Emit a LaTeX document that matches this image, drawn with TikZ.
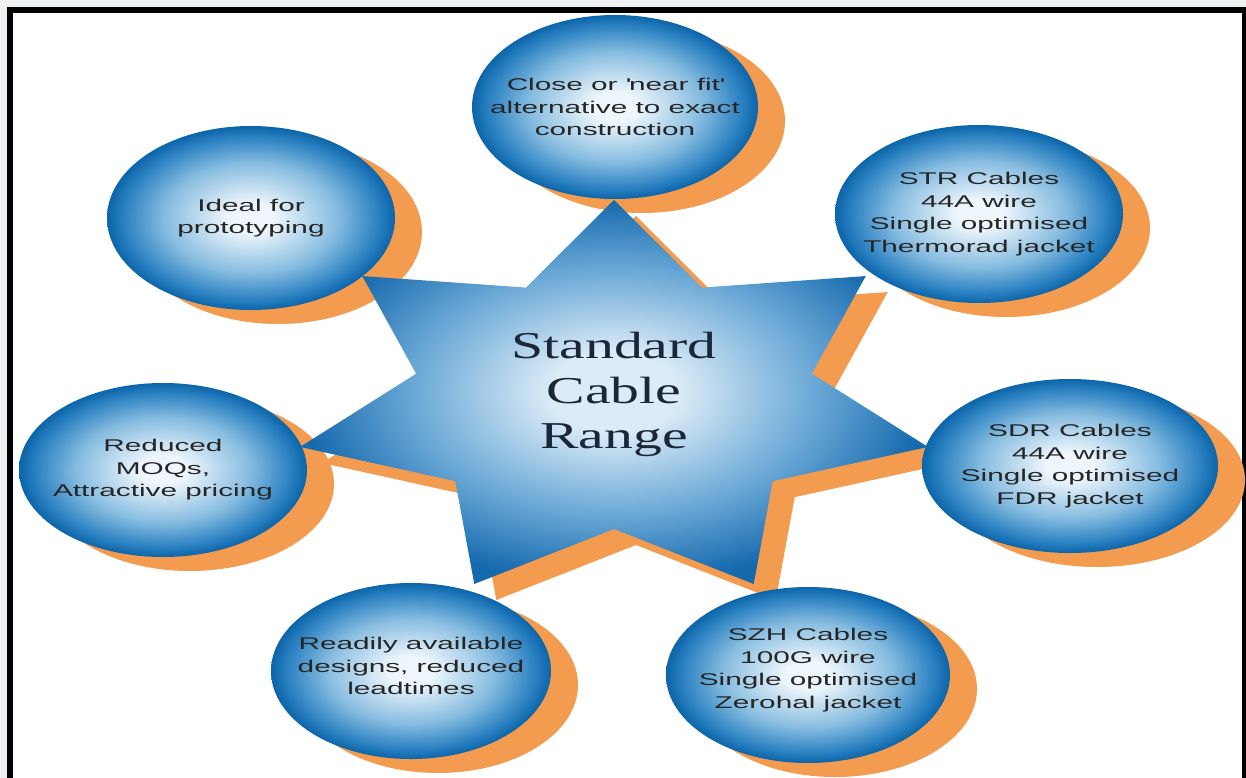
\documentclass[tikz,border=0pt]{standalone}
\usepackage{fontspec}
\usetikzlibrary{shapes.geometric}
\newfontfamily\circfont[FakeStretch=1.75]{Liberation Sans}
\newfontfamily\starfont[FakeStretch=1.52]{Liberation Serif}
\definecolor{bgGray}{HTML}{EEF0F2}
\definecolor{shadowOrange}{HTML}{F39C50}
\definecolor{ballLight}{HTML}{EEF6FC}
\definecolor{ballMid}{HTML}{86BCE0}
\definecolor{ballBlue}{HTML}{2C82C2}
\definecolor{ballDark}{HTML}{0C65AA}
\definecolor{starLight}{HTML}{DCECF7}
\definecolor{starMid}{HTML}{6AA8D6}
\definecolor{starDark}{HTML}{1569AD}
\definecolor{textGray}{HTML}{262626}
\definecolor{starText}{HTML}{1B2738}
\pgfdeclareradialshading{ballshade}{\pgfpoint{0bp}{0bp}}{color(0bp)=(ballLight); color(4bp)=(ballLight); color(15bp)=(ballMid); color(22bp)=(ballBlue); color(25bp)=(ballDark); color(50bp)=(ballDark)}
\pgfdeclareradialshading{starshade}{\pgfpoint{0bp}{0bp}}{color(0bp)=(starLight); color(5bp)=(starLight); color(16bp)=(starMid); color(25bp)=(starDark); color(50bp)=(starDark)}
\begin{document}
\begin{tikzpicture}[x=1pt,y=-1pt,
  ballnode/.style={ellipse, inner sep=0pt, outer sep=0pt, shade, shading=ballshade},
  balltext/.style={text=textGray, font=\circfont\fontsize{17}{22.5}\selectfont, align=center, inner sep=0pt},
  ballshadow/.style={fill=shadowOrange},
  startext/.style={text=starText, font=\starfont\fontsize{38}{45}\selectfont, align=center, inner sep=0pt}]
\useasboundingbox (0,0) rectangle (1246,778);
\clip (0,0) rectangle (1246,778);
% page background and frame
\fill[bgGray] (0,0) rectangle (1246,778);
\fill[white] (10,10) rectangle (1244,790);
\draw[line width=5.5pt] (10,800) -- (10,10) -- (1244.5,10) -- (1244.5,800);
% shadows of the circles
\foreach \cx/\cy/\rx/\ry in {615/107/143/92, 251/218/144/92, 979/214/144/89, 163/470/144/87, 1070/466/148/87, 411/671/140/88, 808/675/142/88}
  \fill[ballshadow] ({\cx+27},{\cy+14}) ellipse [x radius=\rx, y radius=\ry];
% star shadow
\fill[shadowOrange, shift={(22,16)}] (614,200)
  \foreach \i [evaluate=\i as \ra using {ifthenelse(mod(\i,2)==0,322,203)},
               evaluate=\i as \rb using {ifthenelse(mod(\i,2)==0,202,127)}] in {1,...,13}
  { -- ({614+\ra*cos(90+\i*180/7)}, {402-\rb*sin(90+\i*180/7)}) } -- cycle;
% star
\path[shade, shading=starshade] (614,200)
  \foreach \i [evaluate=\i as \ra using {ifthenelse(mod(\i,2)==0,322,203)},
               evaluate=\i as \rb using {ifthenelse(mod(\i,2)==0,202,127)}] in {1,...,13}
  { -- ({614+\ra*cos(90+\i*180/7)}, {402-\rb*sin(90+\i*180/7)}) } -- cycle;
\node[startext] (center) at (614,394) {Standard\\Cable\\Range};
% circles
\node[ballnode, minimum width=286pt, minimum height=184pt] (top) at (615,107) {};
\node[balltext] (toptext) at (top.center)
  {Close or \textquotesingle near fit\textquotesingle\\alternative to exact\\construction};
\node[ballnode, minimum width=288pt, minimum height=184pt] (ul) at (251,218) {};
\node[balltext] (ultext) at (ul.center) {Ideal for\\prototyping};
\node[ballnode, minimum width=288pt, minimum height=178pt] (ur) at (979,214) {};
\node[balltext] (urtext) at (ur.center)
  {STR Cables\\44A wire\\Single optimised\\Thermorad jacket};
\node[ballnode, minimum width=288pt, minimum height=174pt] (left) at (163,470) {};
\node[balltext] (lefttext) at (left.center) {Reduced\\MOQs,\\Attractive pricing};
\node[ballnode, minimum width=296pt, minimum height=174pt] (right) at (1070,466) {};
\node[balltext] (righttext) at (right.center)
  {SDR Cables\\44A wire\\Single optimised\\FDR jacket};
\node[ballnode, minimum width=280pt, minimum height=176pt] (ll) at (411,671) {};
\node[balltext] (lltext) at (411,666) {Readily available\\designs, reduced\\leadtimes};
\node[ballnode, minimum width=284pt, minimum height=176pt] (lr) at (808,675) {};
\node[balltext] (lrtext) at (808,670)
  {SZH Cables\\100G wire\\Single optimised\\Zerohal jacket};
\end{tikzpicture}
\end{document}
